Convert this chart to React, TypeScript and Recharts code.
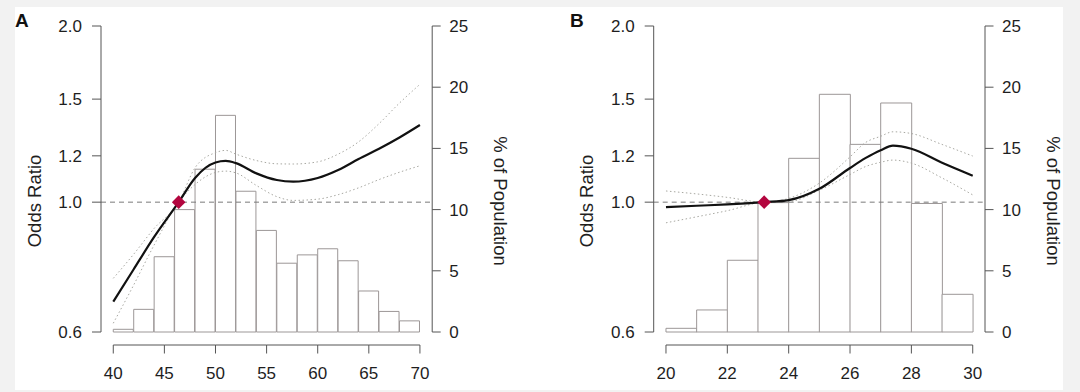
import React from 'react';
import { ComposedChart, XAxis, YAxis, Bar, Line, Scatter, ReferenceLine } from 'recharts';

// ---------- Panel A: age ----------
const ageBinStart = [40, 42, 44, 46, 48, 50, 52, 54, 56, 58, 60, 62, 64, 66, 68];
const agePct = [0.22, 1.85, 6.15, 10.0, 13.3, 17.7, 11.5, 8.3, 5.62, 6.3, 6.8, 5.82, 3.35, 1.68, 0.91];
const ageX = [40, 42, 44, 46.4, 48, 50, 51, 52, 54, 56, 57.6, 60, 62, 64, 66, 68, 70];
const ageOR = [0.676, 0.768, 0.872, 1.0, 1.1, 1.169, 1.176, 1.166, 1.12, 1.091, 1.084, 1.1, 1.135, 1.185, 1.234, 1.29, 1.355];
const ageUpper = [0.741, 0.815, 0.902, 1.0, 1.145, 1.215, 1.226, 1.208, 1.178, 1.163, 1.162, 1.172, 1.208, 1.268, 1.362, 1.477, 1.59];
const ageLower = [0.621, 0.722, 0.845, 1.0, 1.072, 1.124, 1.13, 1.122, 1.068, 1.022, 1.007, 1.012, 1.03, 1.058, 1.093, 1.125, 1.154];
const ageRefX = 46.4;
const ageTicks = [40, 45, 50, 55, 60, 65, 70];

// ---------- Panel B: BMI ----------
const bmiBinStart = [20, 21, 22, 23, 24, 25, 26, 27, 28, 29];
const bmiPct = [0.3, 1.8, 5.86, 10.57, 14.19, 19.42, 15.33, 18.71, 10.5, 3.08];
const bmiX = [20, 21, 22, 23.2, 24, 25, 26, 26.5, 27, 27.4, 28, 29, 30];
const bmiOR = [0.981, 0.986, 0.991, 1.0, 1.008, 1.054, 1.144, 1.189, 1.227, 1.249, 1.234, 1.168, 1.11];
const bmiUpper = [1.045, 1.033, 1.019, 1.0, 1.015, 1.078, 1.195, 1.264, 1.296, 1.319, 1.31, 1.255, 1.199];
const bmiLower = [0.922, 0.944, 0.967, 1.0, 1.002, 1.048, 1.115, 1.15, 1.17, 1.18, 1.166, 1.1, 1.029];
const bmiRefX = 23.2;
const bmiTicks = [20, 22, 24, 26, 28, 30];

const orTicks = [0.6, 1.0, 1.2, 1.5, 2.0];
const pctTicks = [0, 5, 10, 15, 20, 25];

const FONT = '"Liberation Sans", Arial, Helvetica, sans-serif';
const AXIS = '#555';
const TEXT = '#1e1e1e';
const CHART_W = 540;
const CHART_H = 392;
const Y_AXIS_W = 60;

type PanelProps = {
  binStart: number[];
  binWidth: number;
  pct: number[];
  xs: number[];
  or: number[];
  upper: number[];
  lower: number[];
  refX: number;
  xTicks: number[];
  domain: [number, number];
  ml: number;
  mr: number;
};

const Diamond = (props: any) => {
  const { cx, cy } = props;
  const r = 6.8;
  return (
    <polygon
      points={`${cx},${cy - r} ${cx + r},${cy} ${cx},${cy + r} ${cx - r},${cy}`}
      fill="#b3063f"
    />
  );
};

function Panel(p: PanelProps) {
  const histRows = p.binStart.map((s, i) => ({ bin: `${s}-${s + p.binWidth}`, pct: p.pct[i] }));
  const curveRows = p.xs.map((x, i) => ({ x, or: p.or[i], up: p.upper[i], lo: p.lower[i] }));
  const plotW = CHART_W - p.ml - p.mr - 2 * Y_AXIS_W;
  const span = p.domain[1] - p.domain[0];
  const pad = (plotW * (p.xTicks[0] - p.domain[0])) / span;
  const tickStep = p.xTicks[1] - p.xTicks[0];
  const stepPx = (plotW * tickStep) / span;
  const lastTick = p.xTicks[p.xTicks.length - 1];
  const plotBottom = CHART_H - 10 - 50;

  const renderXTick = (props: any) => {
    const { x, payload } = props;
    const ay = plotBottom + 13;
    return (
      <g>
        {payload.value < lastTick && (
          <line x1={x} y1={ay} x2={x + stepPx} y2={ay} stroke={AXIS} strokeWidth={1} />
        )}
        <line x1={x} y1={ay} x2={x} y2={ay + 8.5} stroke={AXIS} strokeWidth={1} />
        <text x={x} y={ay + 34} textAnchor="middle" fill={TEXT} fontSize={17} fontFamily={FONT}>
          {payload.value}
        </text>
      </g>
    );
  };

  const leftTitleX = p.ml - 7;
  const rightTitleX = CHART_W - p.mr - Y_AXIS_W + 68;
  const titleY = 201;

  return (
    <ComposedChart
      width={CHART_W}
      height={CHART_H}
      data={histRows}
      margin={{ top: 26, right: p.mr, bottom: 10, left: p.ml }}
      barCategoryGap={0}
      barGap={0}
    >
      <XAxis
        xAxisId="x"
        dataKey="x"
        type="number"
        domain={p.domain}
        ticks={p.xTicks}
        interval={0}
        height={50}
        axisLine={false}
        tickLine={false}
        tickSize={0}
        tickMargin={0}
        tick={renderXTick}
        allowDataOverflow
      />
      <XAxis xAxisId="hist" dataKey="bin" type="category" hide height={0} padding={{ left: pad, right: pad }} />
      <YAxis
        yAxisId="or"
        scale="log"
        type="number"
        domain={[0.6, 2]}
        ticks={orTicks}
        interval={0}
        allowDataOverflow
        width={Y_AXIS_W}
        stroke={AXIS}
        tickSize={9}
        tickMargin={10}
        tickFormatter={(v: number) => v.toFixed(1)}
        tick={{ fill: TEXT, fontSize: 17, fontFamily: FONT }}
        label={{
          content: () => (
            <text
              x={leftTitleX}
              y={titleY}
              transform={`rotate(-90 ${leftTitleX} ${titleY})`}
              textAnchor="middle"
              dominantBaseline="central"
              fill={TEXT}
              fontSize={18.5}
              fontFamily={FONT}
            >
              Odds Ratio
            </text>
          ),
        }}
      />
      <YAxis
        yAxisId="pct"
        orientation="right"
        type="number"
        domain={[0, 25]}
        ticks={pctTicks}
        interval={0}
        width={Y_AXIS_W}
        stroke={AXIS}
        tickSize={8.5}
        tickMargin={8.5}
        tick={{ fill: TEXT, fontSize: 17, fontFamily: FONT }}
        label={{
          content: () => (
            <text
              x={rightTitleX}
              y={titleY}
              transform={`rotate(90 ${rightTitleX} ${titleY})`}
              textAnchor="middle"
              dominantBaseline="central"
              fill={TEXT}
              fontSize={18.5}
              fontFamily={FONT}
            >
              % of Population
            </text>
          ),
        }}
      />
      <Bar
        xAxisId="hist"
        yAxisId="pct"
        dataKey="pct"
        fill="#ffffff"
        stroke="#9c9797"
        strokeWidth={1}
        isAnimationActive={false}
      />
      <ReferenceLine xAxisId="x" yAxisId="or" y={1} stroke="#7a7a7a" strokeDasharray="5 4" strokeWidth={1} />
      <Line
        data={curveRows}
        xAxisId="x"
        yAxisId="or"
        dataKey="up"
        type="monotone"
        stroke="#a8a8a2"
        strokeWidth={1}
        strokeDasharray="1.5 2.5"
        dot={false}
        activeDot={false}
        isAnimationActive={false}
      />
      <Line
        data={curveRows}
        xAxisId="x"
        yAxisId="or"
        dataKey="lo"
        type="monotone"
        stroke="#a8a8a2"
        strokeWidth={1}
        strokeDasharray="1.5 2.5"
        dot={false}
        activeDot={false}
        isAnimationActive={false}
      />
      <Line
        data={curveRows}
        xAxisId="x"
        yAxisId="or"
        dataKey="or"
        type="monotone"
        stroke="#111111"
        strokeWidth={2.2}
        dot={false}
        activeDot={false}
        isAnimationActive={false}
      />
      <Scatter
        data={[{ x: p.refX, y: 1 }]}
        xAxisId="x"
        yAxisId="or"
        dataKey="y"
        shape={Diamond}
        isAnimationActive={false}
      />
    </ComposedChart>
  );
}

export default function App() {
  return (
    <div
      style={{
        position: 'absolute',
        left: 0,
        top: 0,
        width: 1080,
        height: 392,
        background: '#f2f2f2',
        overflow: 'hidden',
      }}
    >
      <div style={{ position: 'absolute', left: 15, top: 7, width: 1048, height: 383, background: '#ffffff' }} />
      <div style={{ position: 'absolute', left: 0, top: 0 }}>
        <Panel
          binStart={ageBinStart}
          binWidth={2}
          pct={agePct}
          xs={ageX}
          or={ageOR}
          upper={ageUpper}
          lower={ageLower}
          refX={ageRefX}
          xTicks={ageTicks}
          domain={[38.8, 71.2]}
          ml={41}
          mr={47.8}
        />
      </div>
      <div style={{ position: 'absolute', left: 540, top: 0 }}>
        <Panel
          binStart={bmiBinStart}
          binWidth={1}
          pct={bmiPct}
          xs={bmiX}
          or={bmiOR}
          upper={bmiUpper}
          lower={bmiLower}
          refX={bmiRefX}
          xTicks={bmiTicks}
          domain={[19.6, 30.4]}
          ml={53.7}
          mr={35}
        />
      </div>
      <svg width={1080} height={392} style={{ position: 'absolute', left: 0, top: 0, pointerEvents: 'none' }}>
        <text x={15} y={27} fontSize={19} fontWeight="bold" fontFamily={FONT} fill="#111">A</text>
        <text x={570} y={27} fontSize={19} fontWeight="bold" fontFamily={FONT} fill="#111">B</text>
      </svg>
    </div>
  );
}
